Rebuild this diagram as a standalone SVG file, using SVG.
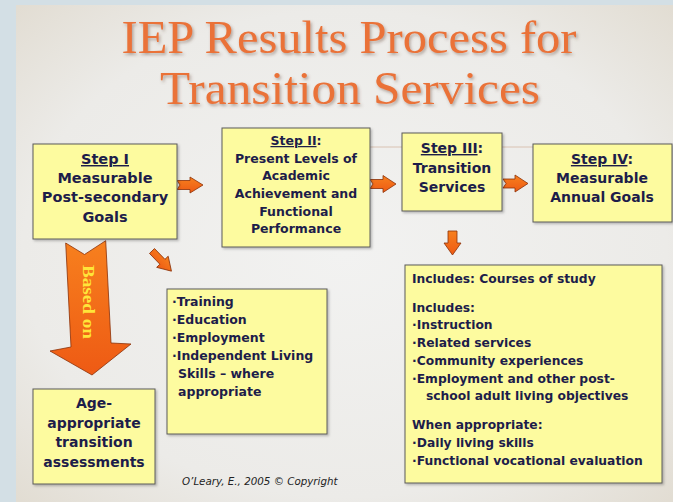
<svg xmlns="http://www.w3.org/2000/svg" width="673" height="502" viewBox="0 0 673 502">
<defs>
<radialGradient id="slideBg" cx="50%" cy="50%" r="70%">
<stop offset="0" stop-color="#f2f2f1"/>
<stop offset="0.7" stop-color="#ecebe8"/>
<stop offset="1" stop-color="#e2ddd3"/>
</radialGradient>
<linearGradient id="orange" x1="0" y1="0" x2="0" y2="1">
<stop offset="0" stop-color="#f7801e"/>
<stop offset="1" stop-color="#ee5a14"/>
</linearGradient>
<filter id="titleShadow" x="-10%" y="-20%" width="120%" height="150%">
<feDropShadow dx="1.5" dy="2" stdDeviation="1.5" flood-color="#6a5040" flood-opacity="0.45"/>
</filter>
<filter id="boxShadow" x="-10%" y="-10%" width="125%" height="125%">
<feDropShadow dx="1.5" dy="1.5" stdDeviation="1.2" flood-color="#000" flood-opacity="0.25"/>
</filter>
</defs>
<style>
.box{fill:#fdfb9f;stroke:#5a5a5a;stroke-width:1;filter:url(#boxShadow)}
.t{font-family:"DejaVu Sans","Liberation Sans",sans-serif;font-weight:bold;fill:#1d1d4a}
.c{text-anchor:middle}
.u{text-decoration:underline}
.arr{fill:url(#orange);stroke:#8a3008;stroke-width:0.8;stroke-linejoin:miter}
.title{font-family:"Liberation Serif","Times New Roman",serif;font-size:46px;fill:#ea7239;text-anchor:middle;filter:url(#titleShadow)}
</style>
<rect x="0" y="0" width="673" height="502" fill="#d3dfe5"/>
<rect x="16" y="5" width="657" height="497" fill="url(#slideBg)"/>
<line x1="370" y1="147" x2="533" y2="147" stroke="#d9c2b2" stroke-width="1"/>

<g id="title">
<text class="title" x="349" y="53" textLength="455" lengthAdjust="spacingAndGlyphs">IEP Results Process for</text>
<text class="title" x="350" y="104" textLength="380" lengthAdjust="spacingAndGlyphs">Transition Services</text>
</g>

<g id="connectors">
<path class="arr" d="M177,180.5 H190 V177 L203,185 L190,193 V189.5 H177 L180,185 Z"/>
<path class="arr" d="M370,179.5 H383 V175.5 L396,184 L383,192.5 V188.5 H370 L373,184 Z"/>
<path class="arr" d="M503,179 H515 V175 L528,183.5 L515,192 V188 H503 L506,183.5 Z"/>
<path class="arr" d="M448,231 H457 V243 H461 L452.5,255 L444,243 H448 Z"/>
<path class="arr" transform="translate(152,251) rotate(46)" d="M0,-3.5 H15 V-8 L28,0 L15,8 V3.5 H0 Z"/>
<path class="arr" d="M65.7,243 L84.5,254.5 L105.7,240.7 L111,343 L131,344 L92,375 L50,351 L71,347 Z"/>
<text transform="translate(83,302) rotate(90)" x="0" y="0" text-anchor="middle" font-family="Liberation Serif,serif" font-weight="bold" font-size="16" fill="#ffe53a" textLength="74" lengthAdjust="spacingAndGlyphs">Based on</text>
</g>

<g id="step1">
<rect class="box" x="33" y="144" width="144" height="95"/>
<text class="t c" font-size="14.5"><tspan class="u" x="105" y="164">Step I</tspan><tspan x="105" y="183">Measurable</tspan><tspan x="105" y="202">Post-secondary</tspan><tspan x="105" y="222">Goals</tspan></text>
</g>

<g id="step2">
<rect class="box" x="222" y="128" width="148" height="119"/>
<text class="t c" font-size="12.5"><tspan x="296" y="145"><tspan class="u">Step II</tspan>:</tspan><tspan x="296" y="162.5">Present Levels of</tspan><tspan x="296" y="180">Academic</tspan><tspan x="296" y="198">Achievement and</tspan><tspan x="296" y="216">Functional</tspan><tspan x="296" y="233">Performance</tspan></text>
</g>

<g id="step3">
<rect class="box" x="402" y="133" width="100" height="78"/>
<text class="t c" font-size="14"><tspan x="452" y="153"><tspan class="u">Step III</tspan>:</tspan><tspan x="452" y="173">Transition</tspan><tspan x="452" y="192">Services</tspan></text>
</g>

<g id="step4">
<rect class="box" x="533" y="144" width="139" height="78"/>
<text class="t c" font-size="14"><tspan x="602" y="164"><tspan class="u">Step IV</tspan>:</tspan><tspan x="602" y="183">Measurable</tspan><tspan x="602" y="202">Annual Goals</tspan></text>
</g>

<g id="goals-list">
<rect class="box" x="167" y="289" width="160" height="145"/>
<text class="t" font-size="12.5"><tspan x="172" y="306">·Training</tspan><tspan x="172" y="324">·Education</tspan><tspan x="172" y="342">·Employment</tspan><tspan x="172" y="360">·Independent Living</tspan><tspan x="178" y="378">Skills – where</tspan><tspan x="178" y="396">appropriate</tspan></text>
</g>

<g id="assessments">
<rect class="box" x="33" y="389" width="122" height="95"/>
<text class="t c" font-size="14"><tspan x="94" y="408">Age-</tspan><tspan x="94" y="428">appropriate</tspan><tspan x="94" y="447">transition</tspan><tspan x="94" y="467">assessments</tspan></text>
</g>

<g id="includes">
<rect class="box" x="405" y="265" width="257" height="218"/>
<text class="t" font-size="12.3"><tspan x="412" y="283">Includes: Courses of study</tspan><tspan x="412" y="312">Includes:</tspan><tspan x="412" y="329">·Instruction</tspan><tspan x="412" y="347">·Related services</tspan><tspan x="412" y="365">·Community experiences</tspan><tspan x="412" y="383">·Employment and other post-</tspan><tspan x="426" y="400">school adult living objectives</tspan><tspan x="412" y="429">When appropriate:</tspan><tspan x="412" y="447">·Daily living skills</tspan><tspan x="412" y="465">·Functional vocational evaluation</tspan></text>
</g>

<g id="copyright">
<text x="182" y="485" font-family="DejaVu Sans,sans-serif" font-style="italic" font-size="10.3" fill="#222">O’Leary, E., 2005 © Copyright</text>
</g>
</svg>
